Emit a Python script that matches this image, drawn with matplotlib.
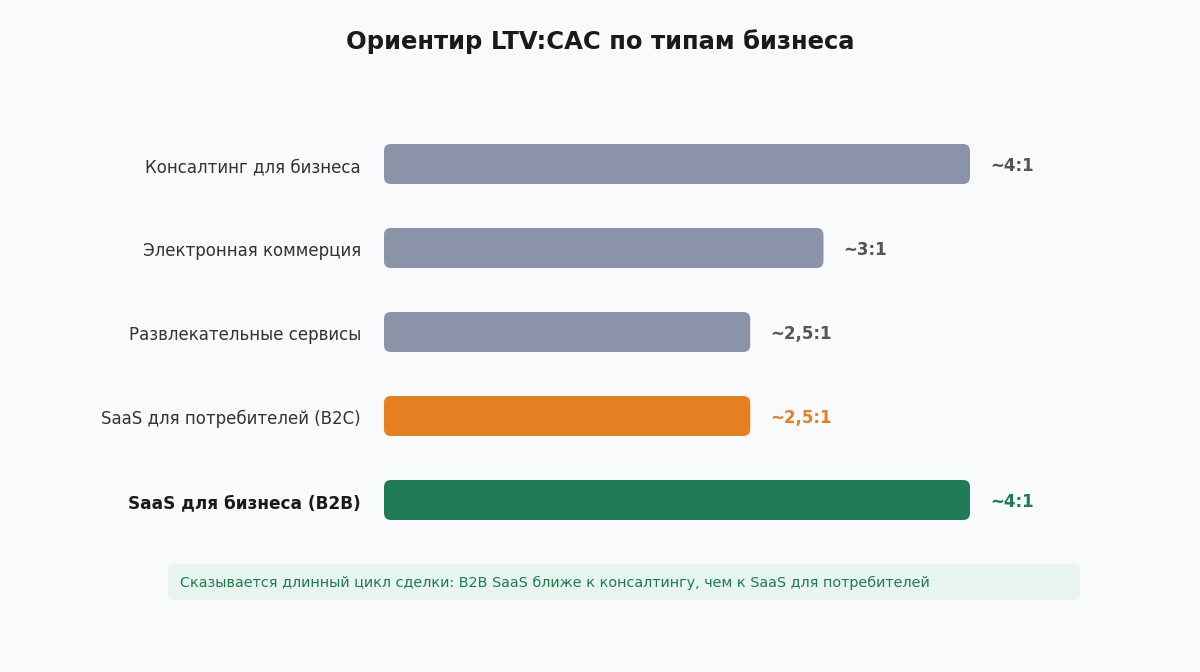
import matplotlib.pyplot as plt
from matplotlib.patches import FancyBboxPatch

plt.rcParams['font.family'] = ['DejaVu Sans']

categories = ['Консалтинг для бизнеса', 'Электронная коммерция', 'Развлекательные сервисы',
              'SaaS для потребителей (B2C)', 'SaaS для бизнеса (B2B)']
values = [4, 3, 2.5, 2.5, 4]
value_labels = ['~4:1', '~3:1', '~2,5:1', '~2,5:1', '~4:1']
bar_colors = ['#8a93a7', '#8a93a7', '#8a93a7', '#e67e22', '#1e7b55']
value_colors = ['#555555', '#555555', '#555555', '#e67e22', '#1e7b55']
note = 'Сказывается длинный цикл сделки: B2B SaaS ближе к консалтингу, чем к SaaS для потребителей'

W, H = 1200, 672
bg = '#f8fafb'
fig = plt.figure(figsize=(W / 100, H / 100), dpi=100, facecolor=bg)

# axes placed in pixel terms: 146.5 px per unit in x, 84 px per row in y
px_x, px_y = 146.5, 84
ax_left, ax_top = 384, 122
ax = fig.add_axes([ax_left / W, 1 - (ax_top + 5 * px_y) / H, 5 * px_x / W, 5 * px_y / H])
ax.set_xlim(0, 5)
ax.set_ylim(4.5, -0.5)
ax.axis('off')

bar_h = 40 / px_y
aspect = px_x / px_y
for i, (v, c) in enumerate(zip(values, bar_colors)):
    box = FancyBboxPatch((0, i - bar_h / 2), v, bar_h,
                         boxstyle='round,pad=0,rounding_size=%f' % (7 / px_x),
                         mutation_aspect=aspect, fc=c, ec='none')
    ax.add_patch(box)
    ax.text(v + 20 / px_x, i + 2 / px_y, value_labels[i], ha='left', va='center',
            fontsize=12, fontweight='bold', color=value_colors[i])
    bold = i == len(categories) - 1
    ax.text(-23 / px_x, i + 3 / px_y, categories[i], ha='right', va='center',
            fontsize=12.2 if bold else 12,
            fontweight='bold' if bold else 'normal',
            color='#1a1a1a' if bold else '#333333')

fig.text(0.5, 1 - 42 / H, 'Ориентир LTV:CAC по типам бизнеса', ha='center', va='center',
         fontsize=17.5, fontweight='bold', color='#1a1a1a')

# note box
nax = fig.add_axes([0, 0, 1, 1])
nax.set_xlim(0, W)
nax.set_ylim(H, 0)
nax.axis('off')
nax.add_patch(FancyBboxPatch((168, 564), 912, 36, boxstyle='round,pad=0,rounding_size=6',
                             fc='#e8f5ee', ec='none'))
nax.text(180, 583, note, ha='left', va='center', fontsize=10.4, color='#1e7b55')

fig.savefig('out.png', dpi=100, facecolor=bg)
